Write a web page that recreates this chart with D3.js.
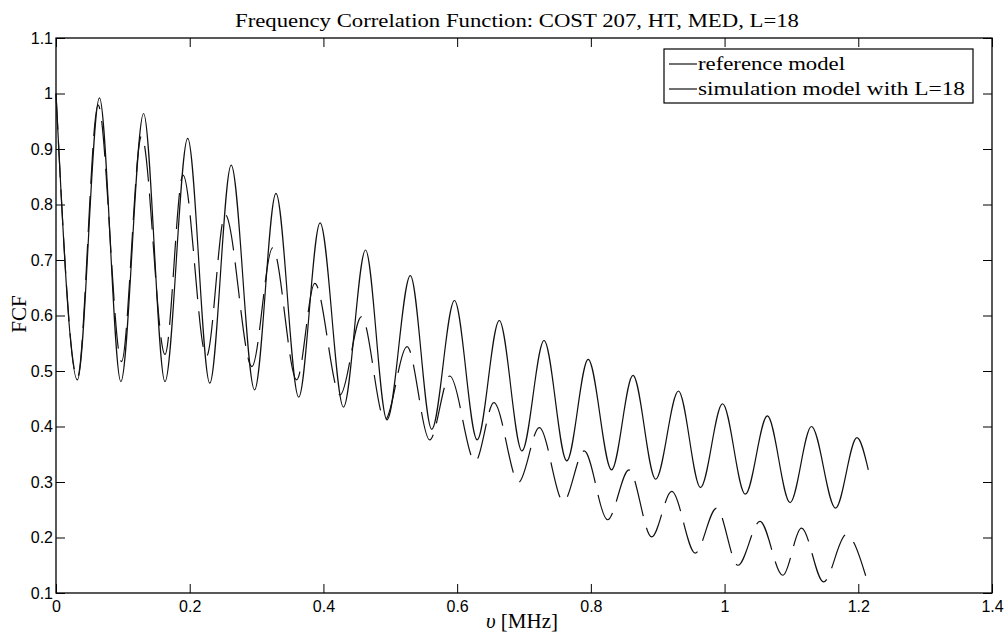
<!DOCTYPE html>
<html>
<head>
<meta charset="utf-8">
<script src="https://cdn.jsdelivr.net/npm/d3@7"></script>
<style>
  body { margin: 0; background: #fff; }
  .tick text { font-family: "Liberation Sans", Arial, sans-serif; font-size: 16px; fill: #000; }
  .domain { display: none; }
  .tick line { stroke: #000; stroke-width: 1; }
</style>
</head>
<body>
<div id="container"></div>
<script>
/* DATA (extrema of each curve) */
const refX = [0, 0.032, 0.065, 0.097, 0.131, 0.163, 0.197, 0.230, 0.262, 0.297, 0.329, 0.363, 0.395, 0.430,
  0.463, 0.495, 0.530, 0.562, 0.596, 0.630, 0.663, 0.697, 0.730, 0.764, 0.796, 0.831, 0.863, 0.897,
  0.931, 0.964, 0.997, 1.031, 1.064, 1.098, 1.130, 1.166, 1.198, 1.215]
const refY = [1.0, 0.484, 0.992, 0.481, 0.964, 0.481, 0.919, 0.478, 0.871, 0.466, 0.820, 0.453, 0.767, 0.435,
  0.718, 0.412, 0.672, 0.395, 0.627, 0.376, 0.591, 0.356, 0.555, 0.338, 0.521, 0.322, 0.492, 0.305,
  0.464, 0.290, 0.441, 0.278, 0.419, 0.263, 0.400, 0.253, 0.380, 0.322]

const simX = [0, 0.032, 0.063, 0.098, 0.128, 0.163, 0.190, 0.225, 0.253, 0.293, 0.324, 0.360, 0.387, 0.425,
  0.457, 0.492, 0.525, 0.559, 0.589, 0.627, 0.655, 0.692, 0.723, 0.759, 0.790, 0.825, 0.857, 0.891,
  0.921, 0.956, 0.988, 1.020, 1.053, 1.087, 1.115, 1.148, 1.182, 1.215]
const simY = [1.0, 0.488, 0.979, 0.517, 0.924, 0.530, 0.853, 0.526, 0.782, 0.508, 0.722, 0.484, 0.658, 0.457,
  0.598, 0.412, 0.544, 0.376, 0.491, 0.337, 0.443, 0.300, 0.398, 0.265, 0.356, 0.232, 0.322, 0.201,
  0.283, 0.172, 0.253, 0.150, 0.229, 0.132, 0.217, 0.120, 0.205, 0.115]

const xTicks = [0, 0.2, 0.4, 0.6, 0.8, 1, 1.2, 1.4]
const yTicks = [0.1, 0.2, 0.3, 0.4, 0.5, 0.6, 0.7, 0.8, 0.9, 1, 1.1]
const seriesNames = ["reference model", "simulation model with L=18"]

/* CONSTANTS */
var margin = {top: 38, right: 16, bottom: 46, left: 56},
    width = 1008 - margin.left - margin.right,
    height = 639 - margin.top - margin.bottom;

const xScale = d3.scaleLinear().domain([0, 1.4]).range([0, width])
const yScale = d3.scaleLinear().domain([0.1, 1.1]).range([height, 0])

const svg = d3.select("#container")
  .append("svg")
   .attr("width", 1008)
   .attr("height", 639)
  .append("g")
   .attr("transform", "translate(" + margin.left + "," + margin.top + ")");

// axes, ticks pointing inwards on all four sides
svg.append("g")
  .attr("transform", "translate(0," + height + ")")
  .call(d3.axisBottom(xScale).tickValues(xTicks).tickSizeInner(-9).tickSizeOuter(0).tickPadding(8)
    .tickFormat(d3.format("~g")))
svg.append("g")
  .call(d3.axisTop(xScale).tickValues(xTicks).tickSizeInner(-9).tickSizeOuter(0).tickFormat(""))
svg.append("g")
  .call(d3.axisLeft(yScale).tickValues(yTicks).tickSizeInner(-9).tickSizeOuter(0).tickPadding(3)
    .tickFormat(d3.format("~g")))
svg.append("g")
  .attr("transform", "translate(" + width + ",0)")
  .call(d3.axisRight(yScale).tickValues(yTicks).tickSizeInner(-9).tickSizeOuter(0).tickFormat(""))

svg.append("rect")
  .attr("width", width).attr("height", height)
  .attr("fill", "none").attr("stroke", "#000").attr("stroke-width", 1.3)

// curves
const line = d3.line()
  .x(d => xScale(d[0]))
  .y(d => yScale(d[1]))
  .curve(d3.curveMonotoneX)

svg.append("path")
  .datum(d3.zip(refX, refY))
  .attr("d", line)
  .attr("fill", "none").attr("stroke", "#111").attr("stroke-width", 1.2)

svg.append("path")
  .datum(d3.zip(simX, simY))
  .attr("d", line)
  .attr("fill", "none").attr("stroke", "#111").attr("stroke-width", 1.2)
  .attr("stroke-dasharray", "36,12")

// legend
const legend = svg.append("g").attr("transform", "translate(" + (664 - margin.left) + "," + (49 - margin.top) + ")")
legend.append("rect")
  .attr("width", 309).attr("height", 54)
  .attr("fill", "#fff").attr("stroke", "#000").attr("stroke-width", 1.2)
seriesNames.forEach((name, i) => {
  const yy = 15 + i * 25
  legend.append("line")
    .attr("x1", 5).attr("x2", 33).attr("y1", yy).attr("y2", yy)
    .attr("stroke", "#111").attr("stroke-width", 1.2)
  legend.append("text")
    .attr("x", 34).attr("y", yy + 6)
    .attr("font-family", "Liberation Serif, serif").attr("font-size", 19)
    .attr("textLength", i == 0 ? 147 : 267).attr("lengthAdjust", "spacingAndGlyphs")
    .text(name)
})

// title and axis labels
svg.append("text")
  .attr("x", 517 - margin.left).attr("y", 27 - margin.top)
  .attr("text-anchor", "middle")
  .attr("font-family", "Liberation Serif, serif").attr("font-size", 18)
  .attr("textLength", 564).attr("lengthAdjust", "spacingAndGlyphs")
  .text("Frequency Correlation Function: COST 207, HT, MED, L=18")

const xl = svg.append("text")
  .attr("x", 522 - margin.left).attr("y", 628 - margin.top)
  .attr("text-anchor", "middle")
  .attr("font-family", "Liberation Serif, serif").attr("font-size", 21)
xl.append("tspan").attr("font-style", "italic").text("υ")
xl.append("tspan").text(" [MHz]")

svg.append("text")
  .attr("transform", "translate(" + (26 - margin.left) + "," + (314 - margin.top) + ") rotate(-90)")
  .attr("text-anchor", "middle")
  .attr("font-family", "Liberation Serif, serif").attr("font-size", 21)
  .text("FCF")
</script>
</body>
</html>
